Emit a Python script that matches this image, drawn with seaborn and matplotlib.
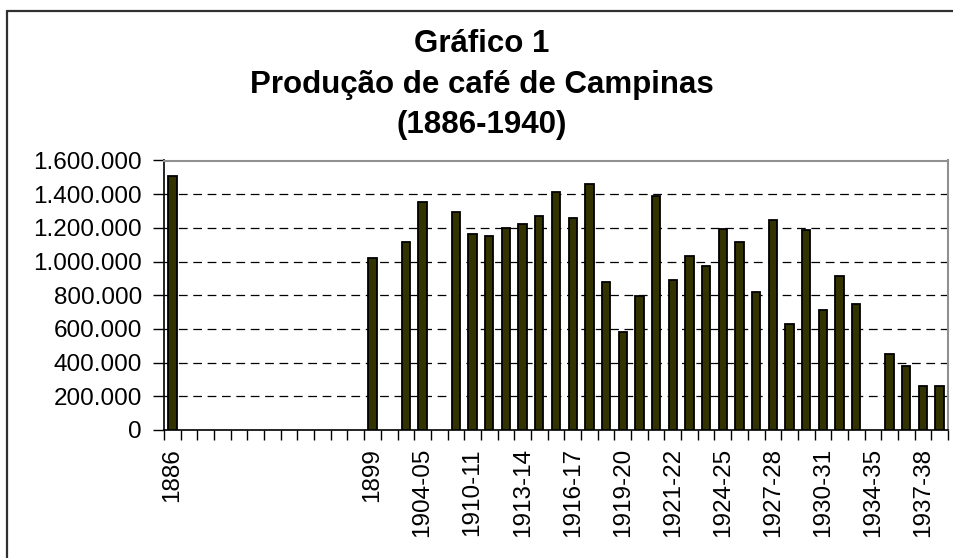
import numpy as np
import pandas as pd
import matplotlib
matplotlib.use("Agg")
import matplotlib.pyplot as plt
from matplotlib.lines import Line2D
from matplotlib.ticker import FuncFormatter, FixedLocator
import seaborn as sns

# ---- data ----
categories = [
    "1886", "", "", "", "", "", "", "", "", "", "", "", "1899",
    "1900-01", "1902-03", "1904-05", "1906-07", "1908-09", "1910-11",
    "1911-12", "1912-13", "1913-14", "1914-15", "1915-16", "1916-17",
    "1917-18", "1918-19", "1919-20", "1920", "1920-21", "1921-22",
    "1922-23", "1923-24", "1924-25", "1925-26", "1926-27", "1927-28",
    "1928-29", "1929-30", "1930-31", "1931-32", "1932-33", "1934-35",
    "1935-36", "1936-37", "1937-38", "1938-39",
]
values = [
    1510000, None, None, None, None, None, None, None, None, None, None, None, 1020000,
    None, 1115000, 1352000, None, 1295000, 1162000,
    1152000, 1198000, 1222000, 1269000, 1412000, 1259000,
    1461000, 879000, 584000, 796000, 1390000, 891000,
    1034000, 976000, 1192000, 1117000, 822000, 1247000,
    632000, 1188000, 713000, 915000, 748000, None,
    451000, 380000, 263000, 263000,
]
title_lines = ["Gráfico 1", "Produção de café de Campinas", "(1886-1940)"]
y_ticks = [0, 200000, 400000, 600000, 800000, 1000000, 1200000, 1400000, 1600000]

# ---- style ----
sns.set_theme(style="white")
plt.rcParams["font.family"] = ["Liberation Sans", "DejaVu Sans"]

W, H = 954, 558
fig = plt.figure(figsize=(W / 100, H / 100), dpi=100)
ax = fig.add_axes([164 / W, 1 - 430 / H, (948 - 164) / W, (430 - 160.5) / H])

df = pd.DataFrame({"slot": list(range(len(categories))),
                   "valor": [np.nan if v is None else v for v in values]})

sns.barplot(data=df, x="slot", y="valor", order=list(range(len(categories))),
            color="#333300", saturation=1, width=0.5, errorbar=None,
            edgecolor="black", linewidth=1.3, ax=ax, zorder=3)

ax.set_xlim(-0.5, len(categories) - 0.5)
ax.set_ylim(0, 1600000)

# grid lines
for v in y_ticks[1:-1]:
    ax.axhline(v, color="black", lw=0.9, ls=(0, (7, 4.5)), zorder=1)

# y axis
ax.yaxis.set_major_locator(FixedLocator(y_ticks))
ax.yaxis.set_major_formatter(FuncFormatter(lambda v, p: f"{v:,.0f}".replace(",", ".")))
ax.tick_params(axis="y", which="major", left=True, length=8, width=1, color="black",
               labelsize=17.5, pad=8, labelcolor="black")

# x axis: labels every third slot, tick marks at slot boundaries
label_pos = list(range(0, len(categories), 3))
ax.set_xticks(label_pos)
ax.set_xticklabels([categories[i] for i in label_pos], rotation=90, va="top", ha="center")
ax.tick_params(axis="x", which="major", bottom=True, length=0, labelsize=17.5, pad=13,
               labelcolor="black")
ax.set_xticks([i - 0.5 for i in range(len(categories) + 1)], minor=True)
ax.tick_params(axis="x", which="minor", bottom=True, length=7, width=1, color="black")

ax.set_xlabel("")
ax.set_ylabel("")

for side in ["left", "bottom"]:
    ax.spines[side].set_color("black")
    ax.spines[side].set_linewidth(1.2)
for side in ["top", "right"]:
    ax.spines[side].set_color("#909090")
    ax.spines[side].set_linewidth(1.5)

# title
baselines = [52, 92.5, 133]
for line, yb in zip(title_lines, baselines):
    fig.text(482 / W, 1 - yb / H, line, ha="center", va="baseline",
             fontsize=22.5, fontweight="bold", color="black")

# outer chart frame (left and top edges visible)
fig.add_artist(Line2D([7 / W, 7 / W], [0, 1 - 10.5 / H], transform=fig.transFigure,
                      color="#303030", lw=1.6))
fig.add_artist(Line2D([7 / W, 1], [1 - 10.5 / H, 1 - 10.5 / H], transform=fig.transFigure,
                      color="#303030", lw=1.6))

fig.savefig("out.png", dpi=100, facecolor="white")
